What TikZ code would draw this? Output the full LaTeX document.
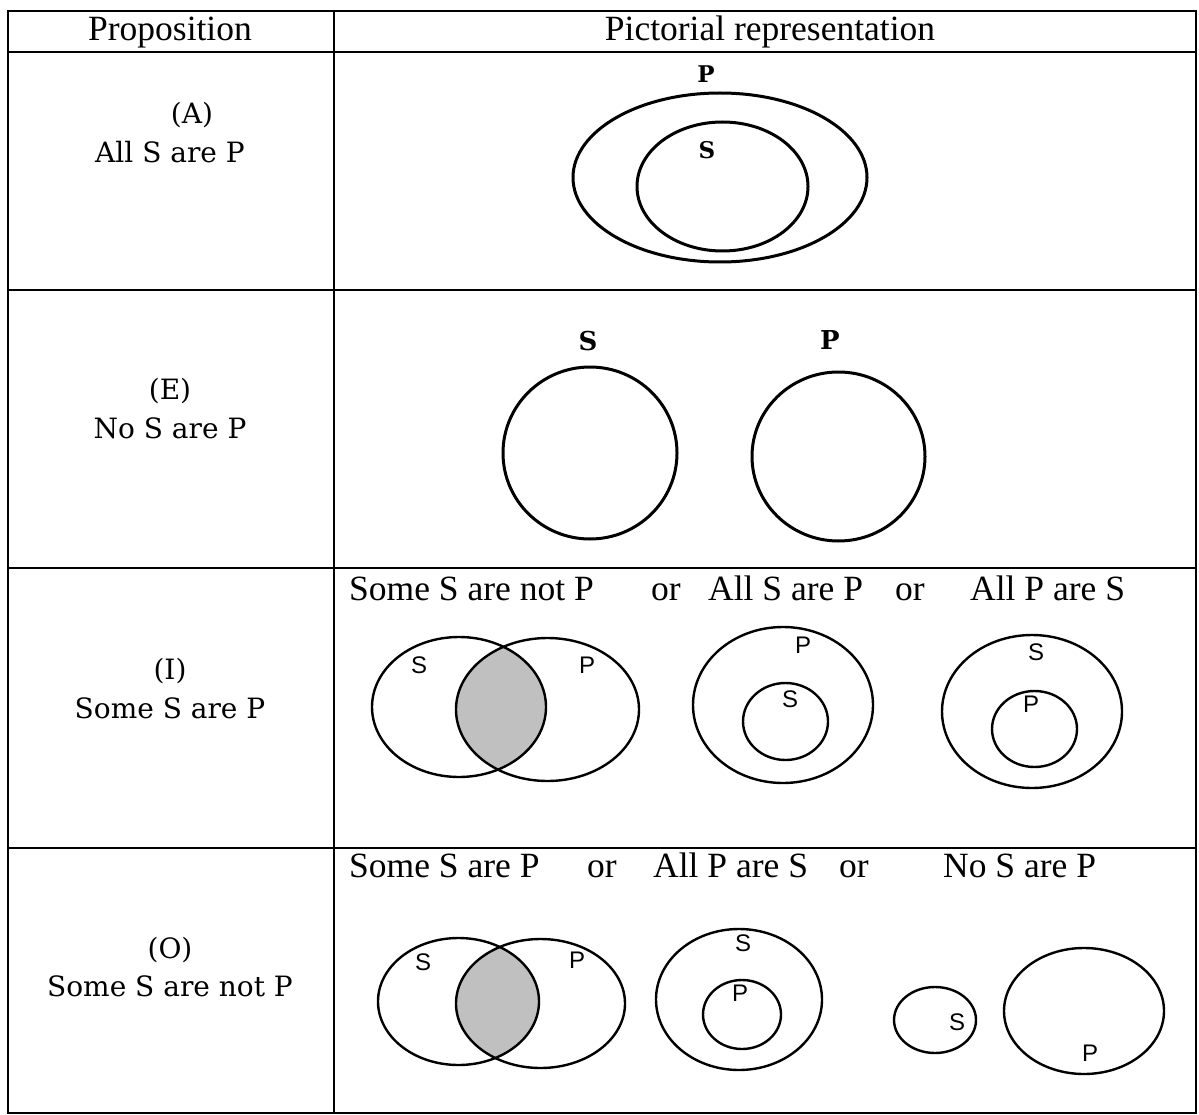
\documentclass[tikz,border=0pt]{standalone}
\usepackage{fontspec}
\setmainfont{DejaVu Serif}
\newfontfamily\condf{Liberation Serif}
\newfontfamily\labf{Liberation Sans}
\begin{document}
\begin{tikzpicture}[x=1pt,y=-1pt,
  grid/.style={line width=2.8pt,black},
  bigring/.style={line width=3pt,black},
  ring/.style={line width=2.4pt,black},
  lefttxt/.style={anchor=base,inner sep=0pt,font=\fontsize{28}{30}\selectfont},
  headtxt/.style={anchor=base,inner sep=0pt,font=\condf\fontsize{35.5}{38}\selectfont},
  rowtxt/.style={anchor=base west,inner sep=0pt,font=\condf\fontsize{35.5}{38}\selectfont},
  boldlab/.style={inner sep=0pt,font=\bfseries\fontsize{23}{25}\selectfont},
  biglab/.style={inner sep=0pt,font=\bfseries\fontsize{26}{28}\selectfont},
  vlab/.style={inner sep=0pt,font=\labf\fontsize{24}{26}\selectfont},
  shade/.style={fill={rgb,255:red,192;green,192;blue,192}}]
\useasboundingbox (0,0) rectangle (1199,1115);
% table grid
\draw[grid] (8,11) rectangle (1196,1113);
\draw[grid] (334,11) -- (334,1113);
\draw[grid] (8,52) -- (1196,52);
\draw[grid] (8,290) -- (1196,290);
\draw[grid] (8,568) -- (1196,568);
\draw[grid] (8,848) -- (1196,848);
% header
\node[headtxt] (h1) at (170,41) {Proposition};
\node[headtxt] (h2) at (770,41) {Pictorial representation};
% left column
\node[lefttxt] (a1) at (192,124) {(A)};
\node[lefttxt] (a2) at (170,163) {All S are P};
\node[lefttxt] (e1) at (170,399) {(E)};
\node[lefttxt] (e2) at (170,438) {No S are P};
\node[lefttxt] (i1) at (170,679) {(I)};
\node[lefttxt] (i2) at (170,718) {Some S are P};
\node[lefttxt] (o1) at (170,958) {(O)};
\node[lefttxt] (o2) at (170,996) {Some S are not P};
% row A
\draw[bigring] (720,177.5) ellipse [x radius=147,y radius=84.5];
\draw[bigring] (722.5,186.5) ellipse [x radius=85.5,y radius=64.5];
\node[boldlab] (aP) at (706,74) {P};
\node[boldlab] (aS) at (707,150) {S};
% row E
\draw[bigring] (590,453) ellipse [x radius=87,y radius=86];
\draw[bigring] (838.5,456.5) ellipse [x radius=86.5,y radius=84.5];
\node[biglab] (eS) at (588,341) {S};
\node[biglab] (eP) at (830,340) {P};
% row I captions
\node[rowtxt] (it1) at (349,600) {Some S are not P};
\node[rowtxt] (it2) at (651,600) {or};
\node[rowtxt] (it3) at (708,600) {All S are P};
\node[rowtxt] (it4) at (895,600) {or};
\node[rowtxt] (it5) at (970,600) {All P are S};
% row I diagrams
\begin{scope}
  \clip (459,707) ellipse [x radius=87,y radius=70];
  \fill[shade] (547.5,709.5) ellipse [x radius=91.5,y radius=71.5];
\end{scope}
\draw[ring] (459,707) ellipse [x radius=87,y radius=70];
\draw[ring] (547.5,709.5) ellipse [x radius=91.5,y radius=71.5];
\node[vlab] (iS1) at (419,665) {S};
\node[vlab] (iP1) at (587,665) {P};
\draw[ring] (783,705) ellipse [x radius=90,y radius=78];
\draw[ring] (785.5,721.5) ellipse [x radius=42.5,y radius=38.5];
\node[vlab] (iP2) at (803,645) {P};
\node[vlab] (iS2) at (790,699) {S};
\draw[ring] (1032,711.5) ellipse [x radius=90,y radius=76.5];
\draw[ring] (1034.5,729) ellipse [x radius=42.5,y radius=38];
\node[vlab] (iS3) at (1036,652) {S};
\node[vlab] (iP3) at (1031,704) {P};
% row O captions
\node[rowtxt] (ot1) at (349,877) {Some S are P};
\node[rowtxt] (ot2) at (587,877) {or};
\node[rowtxt] (ot3) at (653,877) {All P are S};
\node[rowtxt] (ot4) at (839,877) {or};
\node[rowtxt] (ot5) at (943,877) {No S are P};
% row O diagrams
\begin{scope}
  \clip (458.5,1001.5) ellipse [x radius=80.5,y radius=63.5];
  \fill[shade] (540.5,1003.5) ellipse [x radius=84.5,y radius=64.5];
\end{scope}
\draw[ring] (458.5,1001.5) ellipse [x radius=80.5,y radius=63.5];
\draw[ring] (540.5,1003.5) ellipse [x radius=84.5,y radius=64.5];
\node[vlab] (oS1) at (423,962) {S};
\node[vlab] (oP1) at (577,960) {P};
\draw[ring] (739,999.5) ellipse [x radius=83,y radius=70.5];
\draw[ring] (742,1014.5) ellipse [x radius=39,y radius=34.5];
\node[vlab] (oS2) at (743,943) {S};
\node[vlab] (oP2) at (740,993) {P};
\draw[ring] (935,1020) ellipse [x radius=41,y radius=33];
\node[vlab] (oS3) at (957,1022) {S};
\draw[ring] (1084,1011) ellipse [x radius=80,y radius=63];
\node[vlab] (oP3) at (1090,1053) {P};
\end{tikzpicture}
\end{document}
